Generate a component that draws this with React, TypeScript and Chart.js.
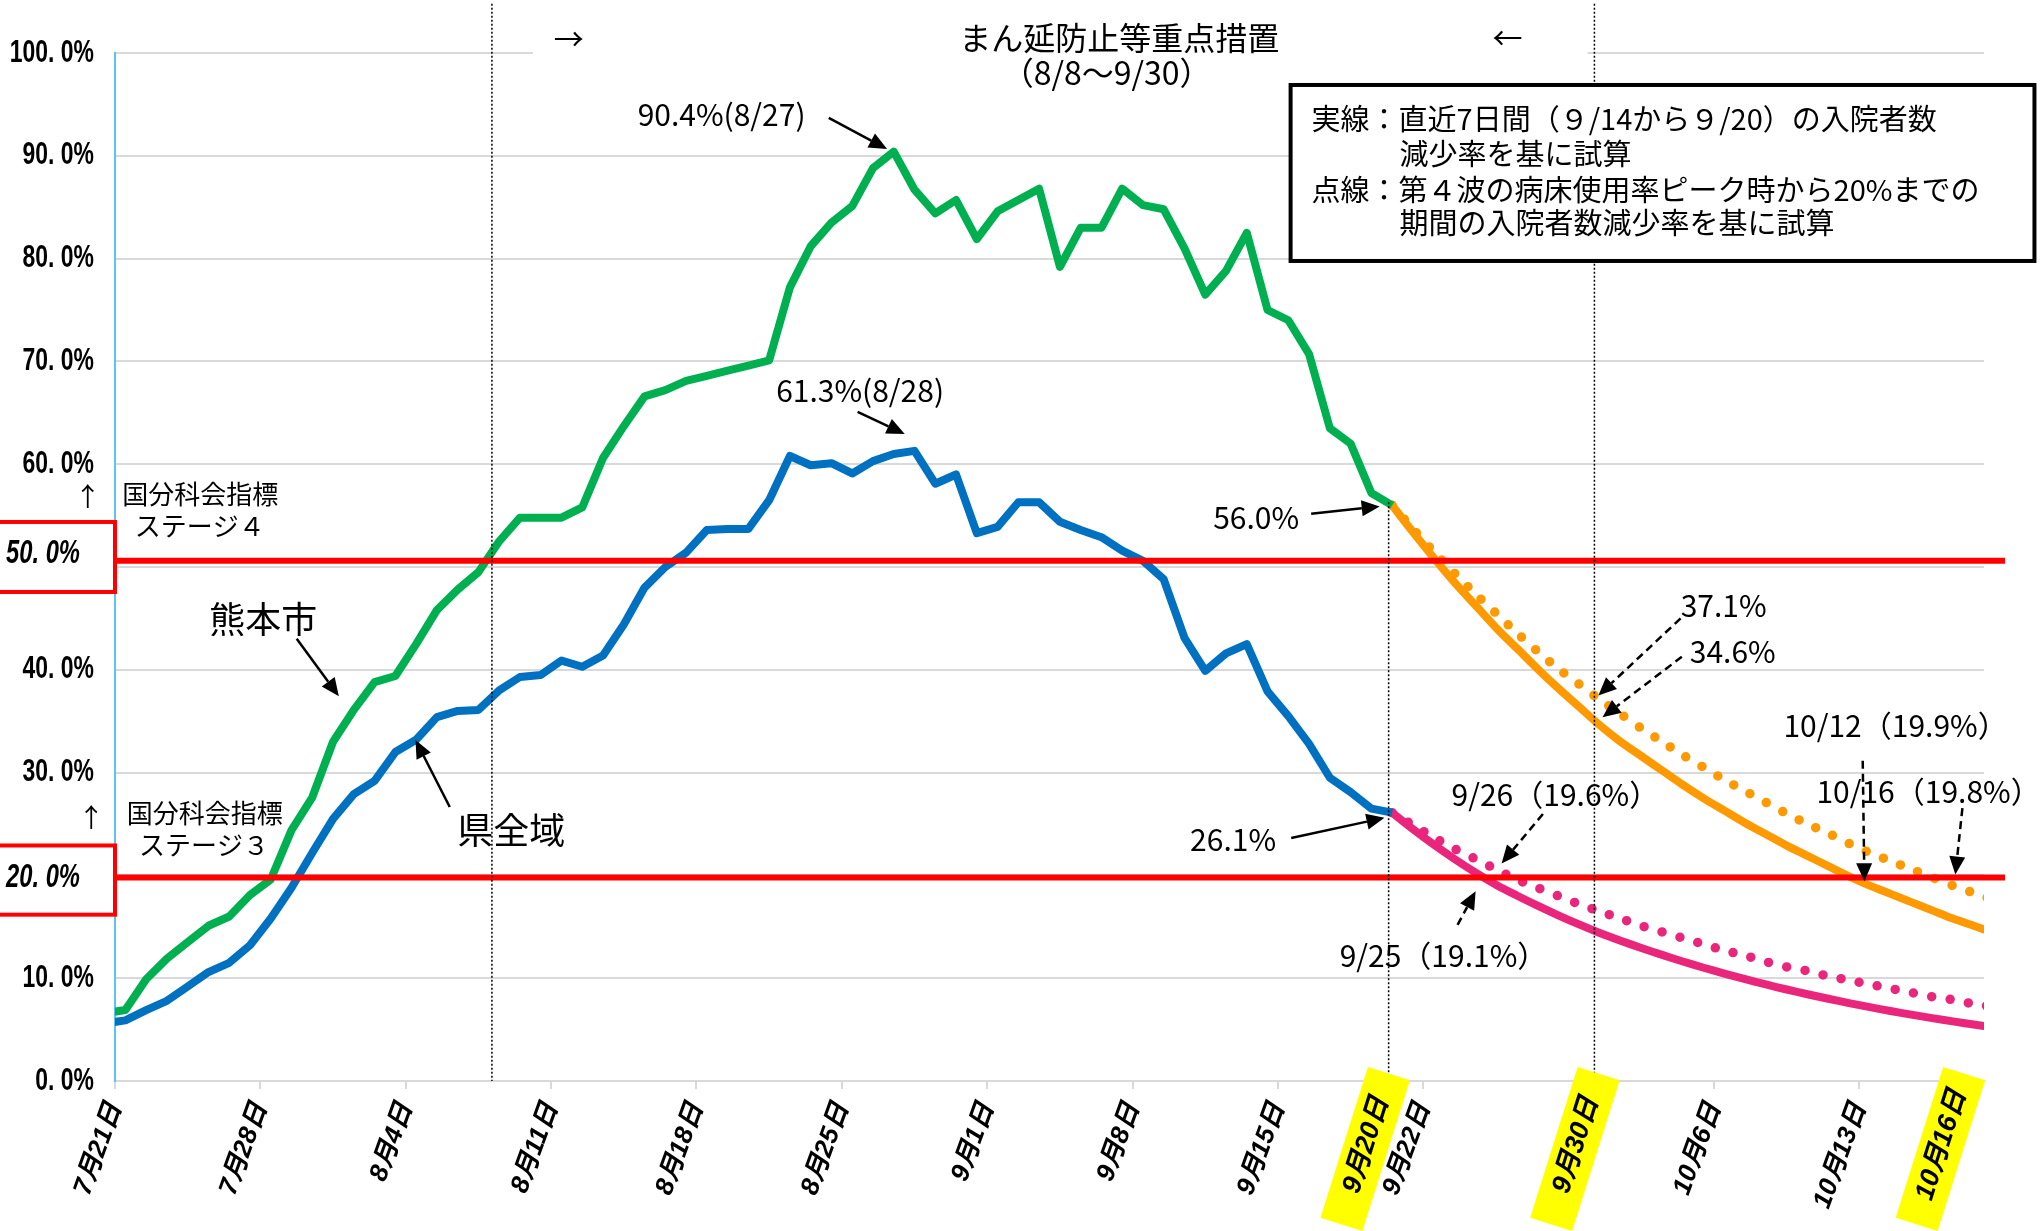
import React, { useEffect, useRef } from 'react';
import { Chart, registerables } from 'chart.js';
Chart.register(...registerables);

// ---- data ----
// observed daily values, 7/20 .. 9/20 (7/20 sits just left of the axis and is clipped)
const cityActual = [6.6, 6.9, 9.9, 11.9, 13.5, 15.1, 16.0, 18.1, 19.6, 24.4, 27.6, 33.0, 36.1, 38.8, 39.4, 42.5, 45.8, 47.8, 49.5, 52.5, 54.8, 54.8, 54.8, 55.8, 60.6, 63.7, 66.6, 67.2, 68.1, 68.6, 69.1, 69.6, 70.1, 77.2, 81.2, 83.5, 85.1, 88.8, 90.4, 86.7, 84.4, 85.7, 81.9, 84.6, 85.7, 86.8, 79.2, 83.0, 83.0, 86.8, 85.2, 84.8, 81.0, 76.5, 78.8, 82.5, 75.0, 74.0, 70.7, 63.5, 62.0, 57.2, 56.0];
const prefActual = [5.6, 5.9, 6.9, 7.8, 9.2, 10.6, 11.5, 13.2, 15.8, 18.8, 22.2, 25.5, 27.9, 29.2, 32.0, 33.2, 35.4, 36.0, 36.1, 38.0, 39.3, 39.5, 40.9, 40.3, 41.4, 44.4, 48.0, 50.0, 51.4, 53.6, 53.7, 53.7, 56.5, 60.8, 59.9, 60.1, 59.1, 60.3, 61.0, 61.3, 58.1, 59.0, 53.3, 53.9, 56.3, 56.3, 54.4, 53.6, 52.9, 51.6, 50.6, 48.8, 43.1, 39.9, 41.6, 42.5, 37.9, 35.5, 32.8, 29.5, 28.1, 26.5, 26.1];
// projections, 9/20 .. 10/19
const cityProjSolid = [56.0, 53.4, 50.9, 48.5, 46.3, 44.1, 42.1, 40.1, 38.2, 36.4, 34.6, 33.0, 31.6, 30.2, 28.8, 27.5, 26.3, 25.1, 24.0, 22.9, 21.9, 20.9, 19.9, 19.0, 18.2, 17.4, 16.6, 15.8, 15.1, 14.4];
const cityProjDotted = [56.0, 53.7, 51.5, 49.4, 47.4, 45.5, 43.6, 41.8, 40.1, 38.6, 37.1, 35.7, 34.3, 33.0, 31.7, 30.5, 29.3, 28.2, 27.1, 26.0, 25.0, 24.1, 23.1, 22.2, 21.4, 20.6, 19.8, 19.0, 18.3, 17.6];
const prefProjSolid = [26.1, 24.5, 23.0, 21.6, 20.3, 19.1, 18.05, 17.06, 16.12, 15.23, 14.4, 13.65, 12.94, 12.27, 11.63, 11.02, 10.45, 9.91, 9.39, 8.9, 8.44, 8.0, 7.58, 7.19, 6.81, 6.46, 6.12, 5.8, 5.5, 5.21];
const prefProjDotted = [26.1, 24.9, 23.7, 22.6, 21.6, 20.6, 19.6, 18.8, 18.0, 17.2, 16.5, 15.8, 15.1, 14.5, 13.9, 13.3, 12.7, 12.2, 11.6, 11.1, 10.7, 10.2, 9.8, 9.4, 9.0, 8.6, 8.2, 7.9, 7.5, 7.2];

const tickDays = [0, 7, 14, 21, 28, 35, 42, 49, 56, 63, 77, 84];
const tickLabels = ['7月21日', '7月28日', '8月4日', '8月11日', '8月18日', '8月25日', '9月1日', '9月8日', '9月15日', '9月22日', '10月6日', '10月13日'];
const highlightLabels = ['9月20日', '9月30日', '10月16日'];
const highlightDays = [60.2, 70.3, 87.9];
const thresholds = [50.6, 19.8];
const thresholdLabels = ['50. 0%', '20. 0%'];

const OBS_START = -0.5; // 7/20 day-centre relative to the 7/21 boundary
const PROJ_START = 61.5; // 9/20 day-centre

const GREEN = '#00b050';
const BLUE = '#0070c0';
const ORANGE = '#ff9900';
const PINK = '#e9267b';
const JP = "'Noto Sans CJK JP', sans-serif";
const LAT = "'Liberation Sans', 'Noto Sans CJK JP', sans-serif";

const toXY = (arr: number[], start: number) => arr.map((y, i) => ({ x: start + i, y }));

function arrow(ctx: CanvasRenderingContext2D, x1: number, y1: number, x2: number, y2: number, dashed: boolean) {
  const ang = Math.atan2(y2 - y1, x2 - x1);
  const hl = 18, hw = 8;
  const bx = x2 - hl * Math.cos(ang), by = y2 - hl * Math.sin(ang);
  ctx.save();
  ctx.strokeStyle = '#000';
  ctx.fillStyle = '#000';
  ctx.lineWidth = 2.5;
  ctx.setLineDash(dashed ? [8, 5] : []);
  ctx.beginPath();
  ctx.moveTo(x1, y1);
  ctx.lineTo(bx, by);
  ctx.stroke();
  ctx.setLineDash([]);
  ctx.beginPath();
  ctx.moveTo(x2, y2);
  ctx.lineTo(bx + hw * Math.sin(ang), by - hw * Math.cos(ang));
  ctx.lineTo(bx - hw * Math.sin(ang), by + hw * Math.cos(ang));
  ctx.closePath();
  ctx.fill();
  ctx.restore();
}

const annotPlugin = {
  id: 'annot',
  afterLayout(chart: any) {
    // y tick labels are drawn by Chart.js, horizontally condensed like the original's narrow font
    const s = chart.scales.y;
    if (s && !s.__condensed) {
      const orig = s.drawLabels.bind(s);
      s.drawLabels = (a: any) => {
        const ctx = s.ctx as CanvasRenderingContext2D;
        const ax = s.right - 21;
        const savedLeft = s.left;
        s.left = -300; // widen Chart.js's label clip box so the condensed text is not cut
        ctx.save();
        ctx.translate(ax, 0);
        ctx.scale(0.74, 1);
        ctx.translate(-ax, 0);
        orig(a);
        ctx.restore();
        s.left = savedLeft;
      };
      s.__condensed = true;
    }
  },
  beforeDatasetsDraw(chart: any) {
    const ctx = chart.ctx as CanvasRenderingContext2D;
    const X = (d: number) => chart.scales.x.getPixelForValue(d);
    const Y = (v: number) => chart.scales.y.getPixelForValue(v);
    // white background of the title text box (hides part of the 100% grid line)
    ctx.save();
    ctx.fillStyle = '#fff';
    ctx.fillRect(X(20.12), Y(100) - 6, X(70.91) - X(20.12), 12);
    ctx.restore();
  },
  afterDatasetsDraw(chart: any) {
    const ctx = chart.ctx as CanvasRenderingContext2D;
    const X = (d: number) => chart.scales.x.getPixelForValue(d);
    const Y = (v: number) => chart.scales.y.getPixelForValue(v);
    const area = chart.chartArea;
    const text = (s: string, d: number, v: number, font: string, align: CanvasTextAlign = 'center') => {
      ctx.save();
      ctx.font = font;
      ctx.fillStyle = '#000';
      ctx.textAlign = align;
      ctx.textBaseline = 'middle';
      ctx.fillText(s, X(d), Y(v));
      ctx.restore();
    };

    // red threshold lines
    ctx.save();
    ctx.strokeStyle = '#ff0000';
    ctx.lineWidth = 6;
    thresholds.forEach((t) => {
      ctx.beginPath();
      ctx.moveTo(area.left, Y(t));
      ctx.lineTo(area.right + 21, Y(t));
      ctx.stroke();
    });
    ctx.restore();

    // dotted vertical lines
    ctx.save();
    ctx.strokeStyle = '#000';
    ctx.lineWidth = 1.5;
    ctx.setLineDash([2, 2]);
    [[18.15, 104.8], [71.24, 104.8], [61.33, 56.3]].forEach(([d, top]) => {
      ctx.beginPath();
      ctx.moveTo(X(d), Y(top));
      ctx.lineTo(X(d), area.bottom);
      ctx.stroke();
    });
    ctx.restore();

    // legend box
    ctx.save();
    const bx0 = X(56.61), bx1 = X(92.43), by0 = Y(96.89), by1 = Y(79.77);
    ctx.fillStyle = '#fff';
    ctx.fillRect(bx0, by0, bx1 - bx0, by1 - by0);
    ctx.strokeStyle = '#000';
    ctx.lineWidth = 4;
    ctx.strokeRect(bx0, by0, bx1 - bx0, by1 - by0);
    ctx.restore();
    const LG = `29px ${JP}`;
    text('実線：直近7日間（９/14から９/20）の入院者数', 57.62, 93.62, LG, 'left');
    text('減少率を基に試算', 61.85, 90.16, LG, 'left');
    text('点線：第４波の病床使用率ピーク時から20%までの', 57.62, 86.69, LG, 'left');
    text('期間の入院者数減少率を基に試算', 61.85, 83.42, LG, 'left');

    // title
    text('まん延防止等重点措置', 48.36, 101.5, `32px ${JP}`);
    text('（8/8～9/30）', 47.75, 98.05, `32px ${JP}`);
    text('→', 21.85, 101.4, `30px ${JP}`);
    text('←', 67.06, 101.5, `30px ${JP}`);

    // series names
    text('熊本市', 7.14, 44.87, `36px ${JP}`);
    arrow(ctx, X(8.75), Y(43.02), X(10.78), Y(37.43), false);
    text('県全域', 19.08, 24.42, `36px ${JP}`);
    arrow(ctx, X(16.12), Y(26.65), X(14.47), Y(33.17), false);

    // stage notes
    const SF = `26px ${JP}`;
    text('国分科会指標', 4.11, 57.05, SF);
    text('ステージ４', 4.08, 53.99, SF);
    text('↑', -1.31, 56.9, SF);
    text('国分科会指標', 4.32, 26.07, SF);
    text('ステージ３', 4.28, 22.9, SF);
    text('↑', -1.14, 25.68, SF);

    // value callouts
    const AF = `30px ${JP}`;
    text('90.4%(8/27)', 29.21, 94.0, AF);
    arrow(ctx, X(34.37), Y(93.68), X(37.18), Y(90.66), false);
    text('61.3%(8/28)', 35.88, 67.2, AF);
    arrow(ctx, X(35.76), Y(65.08), X(38.03), Y(62.94), false);
    text('56.0%', 54.95, 54.79, AF);
    arrow(ctx, X(57.6), Y(55.19), X(60.9), Y(55.89), false);
    text('26.1%', 53.84, 23.44, AF);
    arrow(ctx, X(56.64), Y(23.64), X(61.13), Y(25.6), false);

    text('37.1%', 77.46, 46.24, AF);
    arrow(ctx, X(75.39), Y(45.0), X(71.43), Y(37.5), true);
    text('34.6%', 77.9, 41.73, AF);
    arrow(ctx, X(75.45), Y(41.27), X(71.63), Y(35.39), true);
    text('10/12（19.9%）', 85.74, 34.53, AF);
    arrow(ctx, X(84.16), Y(31.16), X(84.24), Y(19.43), true);
    text('10/16（19.8%）', 87.33, 28.15, AF);
    arrow(ctx, X(88.96), Y(26.54), X(88.62), Y(20.08), true);
    text('9/26（19.6%）', 69.36, 27.89, AF);
    arrow(ctx, X(68.76), Y(25.97), X(66.77), Y(21.16), true);
    text('9/25（19.1%）', 63.97, 12.16, AF);
    arrow(ctx, X(64.65), Y(15.19), X(65.52), Y(18.46), true);

    // red boxed y labels
    const boxes = [[54.38, 47.57, 51.3], [22.91, 16.18, 19.78]];
    boxes.forEach(([top, bottom, mid], i) => {
      ctx.save();
      ctx.fillStyle = '#fff';
      ctx.fillRect(-10, Y(top), area.left + 10, Y(bottom) - Y(top));
      ctx.strokeStyle = '#ff0000';
      ctx.lineWidth = 4;
      ctx.strokeRect(-10, Y(top), area.left + 10, Y(bottom) - Y(top));
      ctx.font = `italic bold 33px ${LAT}`;
      ctx.fillStyle = '#000';
      ctx.textAlign = 'left';
      ctx.textBaseline = 'middle';
      ctx.translate(6, Y(mid));
      ctx.scale(0.72, 1);
      ctx.fillText(thresholdLabels[i], 0, 0);
      ctx.restore();
    });
  },
  afterDraw(chart: any) {
    const ctx = chart.ctx as CanvasRenderingContext2D;
    const area = chart.chartArea;
    highlightDays.forEach((d, i) => {
      const cx = chart.scales.x.getPixelForValue(d);
      ctx.save();
      ctx.translate(cx, area.bottom + 68);
      ctx.rotate((-72.5 * Math.PI) / 180);
      ctx.fillStyle = '#ffff00';
      ctx.fillRect(-79, -22, 158, 44);
      ctx.fillStyle = '#000';
      ctx.font = `italic bold 27px ${LAT}`;
      ctx.textAlign = 'center';
      ctx.textBaseline = 'middle';
      ctx.fillText(highlightLabels[i], 4, 0);
      ctx.restore();
    });
  },
};

export default function App() {
  const ref = useRef<HTMLCanvasElement>(null);
  useEffect(() => {
    document.body.style.margin = '0';
    const canvas = ref.current!;
    const clip = { left: 0, right: 0, top: 20, bottom: 20 };
    const chart = new Chart(canvas, {
      type: 'line',
      data: {
        datasets: [
          { label: '熊本市', data: toXY(cityActual, OBS_START), borderColor: GREEN, borderWidth: 8, pointRadius: 0, tension: 0, clip, borderJoinStyle: 'round' },
          { label: '県全域', data: toXY(prefActual, OBS_START), borderColor: BLUE, borderWidth: 8, pointRadius: 0, tension: 0, clip, borderJoinStyle: 'round' },
          { label: '熊本市 点線', data: toXY(cityProjDotted, PROJ_START), borderColor: ORANGE, borderWidth: 9.5, borderDash: [0, 18.5], borderCapStyle: 'round', pointRadius: 0, tension: 0.3, clip },
          { label: '県全域 点線', data: toXY(prefProjDotted, PROJ_START), borderColor: PINK, borderWidth: 9.5, borderDash: [0, 18.5], borderCapStyle: 'round', pointRadius: 0, tension: 0.3, clip },
          { label: '熊本市 実線', data: toXY(cityProjSolid, PROJ_START), borderColor: ORANGE, borderWidth: 8, pointRadius: 0, tension: 0.3, clip },
          { label: '県全域 実線', data: toXY(prefProjSolid, PROJ_START), borderColor: PINK, borderWidth: 8, pointRadius: 0, tension: 0.3, clip },
        ],
      } as any,
      options: {
        responsive: false,
        animation: false,
        layout: { padding: { top: 53, right: 56, left: 0, bottom: 0 } },
        plugins: { legend: { display: false }, tooltip: { enabled: false } },
        scales: {
          x: {
            type: 'linear',
            min: 0,
            max: 90,
            afterBuildTicks: (s: any) => {
              s.ticks = tickDays.map((v) => ({ value: v }));
            },
            afterFit: (s: any) => {
              s.height = 150;
            },
            grid: { drawOnChartArea: false, drawTicks: true, tickLength: 8, color: '#d9d9d9', lineWidth: 2 },
            border: { color: '#d9d9d9', width: 2 },
            ticks: {
              autoSkip: false,
              minRotation: 70,
              maxRotation: 70,
              padding: 10,
              color: '#000',
              font: { family: LAT, size: 26, weight: 'bold', style: 'italic' },
              callback: (v: any) => {
                const i = tickDays.indexOf(Number(v));
                return i >= 0 ? tickLabels[i] : '';
              },
            },
          },
          y: {
            min: 0,
            max: 100,
            afterFit: (s: any) => {
              s.width = 115;
            },
            grid: { color: '#d9d9d9', lineWidth: 2, drawTicks: false },
            border: { color: '#5cc4ef', width: 2 },
            ticks: {
              stepSize: 10,
              padding: 21,
              color: '#000',
              font: { family: LAT, size: 31, weight: 'bold' },
              callback: (v: any) => (Number(v) === 20 || Number(v) === 50 ? '' : `${v}. 0%`),
            },
          },
        },
      } as any,
      plugins: [annotPlugin],
    });
    return () => chart.destroy();
  }, []);
  return <canvas ref={ref} width={2040} height={1231} style={{ display: 'block', width: 2040, height: 1231 }} />;
}
